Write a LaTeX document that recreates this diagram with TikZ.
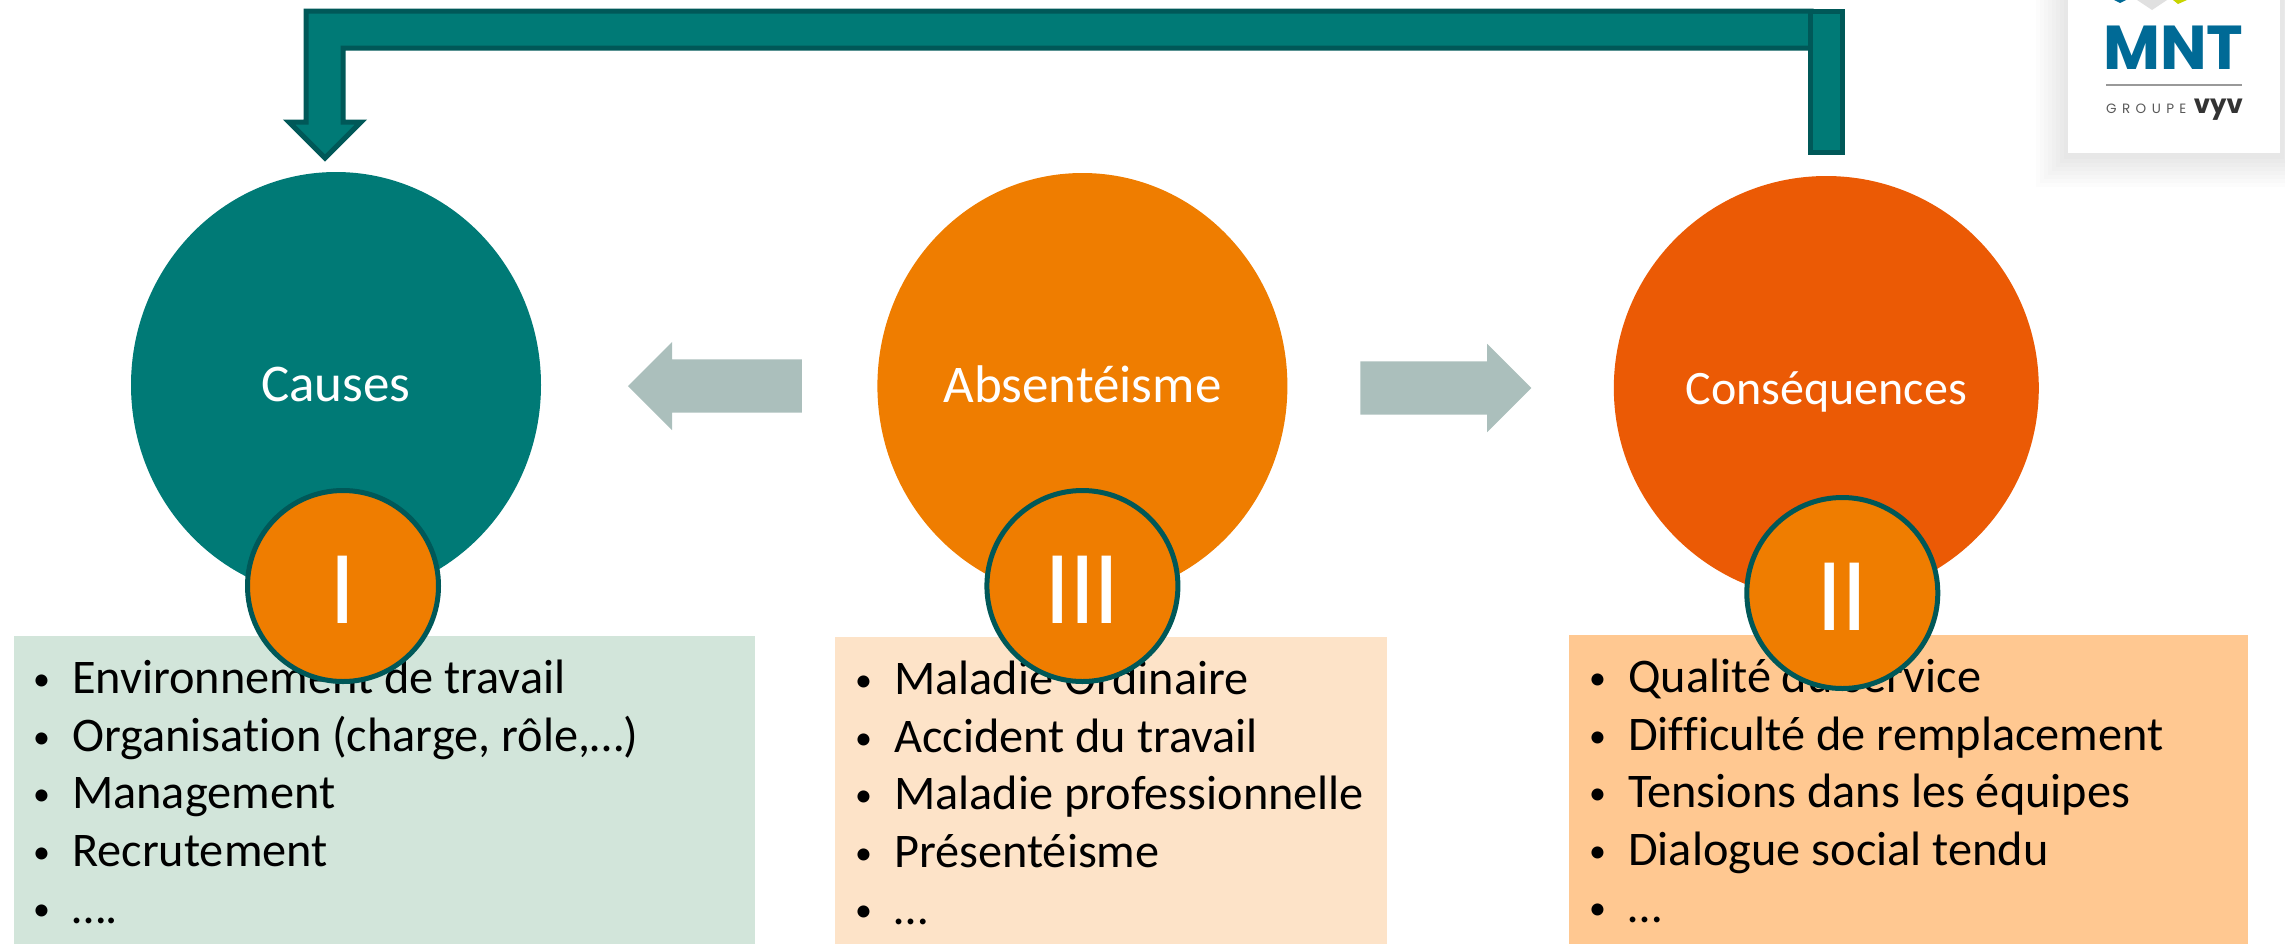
\documentclass[tikz,border=0pt]{standalone}
\usepackage{fontspec}
\setmainfont[Ligatures=NoCommon]{Carlito}
\newfontfamily\numfont[LetterSpace=-2]{Carlito}
\newfontfamily\logofont{Poppins}
\newfontfamily\logospaced[LetterSpace=40]{Poppins}
\usepackage{tikz}
\usetikzlibrary{
  positioning,
  shapes.arrows,
  shapes.geometric,
}
\definecolor{tealmain}{RGB}{0, 122, 118}
\definecolor{tealdark}{RGB}{0, 88, 88}
\definecolor{orangemain}{RGB}{239, 125, 0}
\definecolor{orangedark}{RGB}{235, 90, 5}
\definecolor{boxgreen}{RGB}{210, 229, 218}
\definecolor{boxpeach}{RGB}{253, 227, 200}
\definecolor{boxorange}{RGB}{255, 200, 145}
\definecolor{arrowgrey}{RGB}{171, 191, 188}
\definecolor{logoblue}{RGB}{0, 106, 150}
\definecolor{logolime}{RGB}{200, 212, 0}
\tikzstyle{bigdisc} = [
  ellipse,
  inner sep=0pt,
  text=white,
  text height=44,
  text depth=11,
  font=\fontsize{53}{53}\selectfont,
]
\tikzstyle{numdisc} = [
  circle,
  draw=tealdark,
  line width=5pt,
  fill=orangemain,
  minimum size=191,
  inner sep=0pt,
  text=white,
  text height=74,
  font=\fontsize{105}{105}\numfont,
]
\tikzstyle{listbox} = [
  rectangle,
  anchor=north west,
  minimum height=310,
  inner sep=0pt,
]
\tikzstyle{listtext} = [
  anchor=north west,
  align=left,
  inner sep=0pt,
  font=\fontsize{48.3}{57.5}\selectfont,
]
\tikzstyle{sidearrow} = [
  single arrow,
  fill=arrowgrey,
  inner xsep=0pt,
  inner ysep=26.5pt,
  minimum height=174,
  single arrow head extend=17.5,
  single arrow head indent=0pt,
]
\tikzstyle{backarrow} = [
  draw=tealdark,
  fill=tealmain,
  line width=5pt,
  miter limit=10,
]
\newcommand{\bul}{\makebox[38pt][l]{\hspace{-1pt}\raisebox{3pt}{\fontsize{34}{34}\selectfont\textbullet}}}

\begin{document}
\begin{tikzpicture}[x=1pt,y=1pt,node distance=0mm and 0mm]

      \useasboundingbox (0,0) rectangle (2285,-943);
      \clip (0,0) rectangle (2285,-943);

      % lists
      \node[listbox,fill=boxgreen,minimum width=741] (list1) at (14,-636) {};
      \node[listbox,fill=boxpeach,minimum width=552] (list3) at (835,-637) {};
      \node[listbox,fill=boxorange,minimum width=679] (list2) at (1569,-635) {};

      \node[listtext,xshift=20,yshift=-24] (text1) at (list1.north west) {\bul Environnement de travail\\\bul Organisation (charge, rôle,…)\\\bul Management\\\bul Recrutement\\\bul ….};
      \node[listtext,xshift=21,yshift=-24] (text3) at (list3.north west) {\bul Maladie Ordinaire\\\bul Accident du travail\\\bul Maladie professionnelle\\\bul Présentéisme\\\bul …};
      \node[listtext,xshift=21,yshift=-24] (text2) at (list2.north west) {\bul Qualité du service\\\bul Difficulté de remplacement\\\bul Tensions dans les équipes\\\bul Dialogue social tendu\\\bul …};

      % main discs
      \node[bigdisc,fill=tealmain,minimum width=410,minimum height=426] (causes) at (336,-385) {Causes};
      \node[bigdisc,fill=orangemain,minimum width=410,minimum height=426,xshift=336,yshift=-1] (absent) [right=of causes] {Absentéisme};
      \node[bigdisc,fill=orangedark,minimum width=425,minimum height=424,font=\fontsize{48}{48}\selectfont,xshift=326,yshift=-2] (conseq) [right=of absent] {Conséquences};

      \node[numdisc,xshift=7,yshift=-201] at (causes) (num1) {I};
      \node[numdisc,yshift=-200] at (absent) (num3) {III};
      \node[numdisc,xshift=16,yshift=-205] at (conseq) (num2) {II};

      % arrows between the discs
      \node[sidearrow,shape border rotate=180,xshift=-75,yshift=0] (toleft) [left=of absent.west] {};
      \node[sidearrow,minimum height=171,xshift=-82,yshift=0] (toright) [left=of conseq.west] {};

      % way back from II to I
      \coordinate (bendtip) at (325,-158);
      \draw[backarrow] (306,-11) -- (1811,-11) -- (1811,-48) -- (343,-48) -- (343,-122) -- (361,-122) -- (bendtip) -- (289,-122) -- (306,-122) -- cycle;
      \node[rectangle,draw=tealdark,fill=tealmain,line width=5pt,minimum width=32,minimum height=141,inner sep=0pt] (stub) at (1826,-82) {};

      % logo
      \foreach \s in {4,8,...,32} {
        \fill[black,opacity=0.012] (2068-\s,0) rectangle (2280+\s,-153-\s-2);
      }
      \node[rectangle,fill=white,anchor=north west,minimum width=212,minimum height=153,inner sep=0pt] (card) at (2068,0) {};
      \fill[logoblue] (2114,0) -- (2126,0) -- (2120,-3) -- cycle;
      \fill[black!12] (2137,0) -- (2167,0) -- (2152,-10) -- cycle;
      \fill[logolime] (2173,0) -- (2187,0) -- (2178,-4) -- cycle;
      \node[anchor=base west,inner sep=0pt,text=logoblue,font=\fontsize{62}{62}\logofont\bfseries] (mnt) at (2103,-69) {MNT};
      \draw[line width=2pt,black!40] (2106,-85) -- (2242,-85);
      \node[anchor=base west,inner sep=0pt,text=black!65,font=\fontsize{13.5}{14}\logospaced] (groupe) at (2106,-113) {GROUPE};
      \node[anchor=base east,inner sep=0pt,text=black!80,font=\fontsize{26}{26}\logofont\bfseries] (vyv) at (2243,-113) {vyv};

\end{tikzpicture}
\end{document}
